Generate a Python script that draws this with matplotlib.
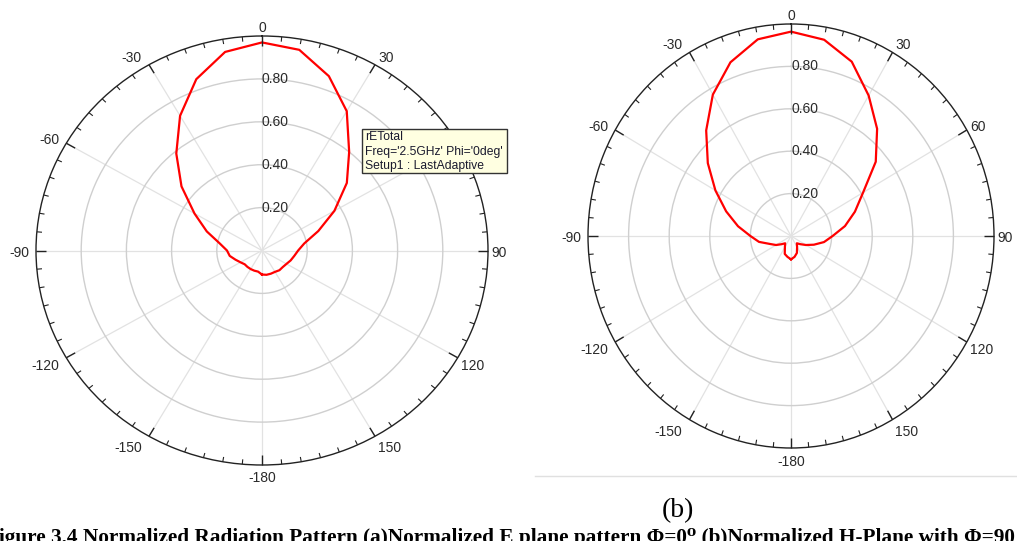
import matplotlib
matplotlib.use('Agg')
import matplotlib.pyplot as plt
import matplotlib.patches as patches
import matplotlib.transforms as mtransforms
import numpy as np

plt.rcParams['font.family'] = ['Liberation Sans', 'DejaVu Sans']

# angles of the samples (deg, HFSS convention: 0 at top, clockwise positive)
theta_deg = list(range(-180, 181, 10))

# (a) E-plane, Phi = 0deg, normalized rETotal
e_plane = [0.112, 0.10, 0.10, 0.10, 0.10, 0.10, 0.11, 0.125, 0.145, 0.155,
           0.19, 0.26, 0.345, 0.465, 0.59, 0.725, 0.85, 0.94, 0.97,
           0.95, 0.865, 0.75, 0.60, 0.49, 0.37, 0.265, 0.19, 0.16,
           0.145, 0.135, 0.125, 0.12, 0.12, 0.115, 0.115, 0.115, 0.112]

# (b) H-plane, Phi = 90deg
h_plane = [0.11, 0.10, 0.09, 0.06, 0.045, 0.06, 0.085, 0.11, 0.16, 0.20,
           0.265, 0.34, 0.43, 0.535, 0.65, 0.77, 0.872, 0.942, 0.964,
           0.94, 0.875, 0.765, 0.66, 0.545, 0.41, 0.335, 0.27, 0.205,
           0.165, 0.12, 0.085, 0.06, 0.045, 0.06, 0.085, 0.10, 0.11]

ring_values = [0.2, 0.4, 0.6, 0.8]
angle_ticks = list(range(0, 360, 30))
angle_labels = ['0', '30', '60', '90', '120', '150', '-180', '-150', '-120', '-90', '-60', '-30']

legend_lines = ["rETotal", "Freq='2.5GHz' Phi='0deg'", "Setup1 : LastAdaptive"]

W, H = 1017, 541
fig = plt.figure(figsize=(W / 100, H / 100), dpi=100)
fig.patch.set_facecolor('white')


def px_box(cx, cy, rx, ry):
    """axes rect in figure fractions from a centre/radius given in pixels (top origin)"""
    return [(cx - rx) / W, (H - (cy + ry)) / H, 2 * rx / W, 2 * ry / H]


def polar_panel(rect, values, rpx):
    ax = fig.add_axes(rect, projection='polar')
    ax.set_aspect('auto')
    ax.set_theta_zero_location('N')
    ax.set_theta_direction(-1)
    ax.set_ylim(0, 1.0)

    ax.set_xticks(np.deg2rad(angle_ticks))
    ax.set_xticklabels([])
    ax.tick_params(axis='x', which='major', length=0)
    ax.set_yticks(ring_values)
    ax.set_yticklabels([])
    ax.grid(axis='x', which='major', color='#e2e2e2', linewidth=0.9)
    ax.grid(axis='y', color='#cfcfcf', linewidth=1.0)
    ax.spines['polar'].set_color('#222222')
    ax.spines['polar'].set_linewidth(1.0)

    # inward ticks on the outer circle: long every 30deg, short every 5deg
    minor = [a for a in range(0, 360, 5) if a % 30]
    ax.vlines(np.deg2rad(angle_ticks), 1 - 10 / rpx, 1.0, color='#222222',
              linewidth=1.0, clip_on=False, zorder=6)
    ax.vlines(np.deg2rad(minor), 1 - 5 / rpx, 1.0, color='#222222',
              linewidth=0.8, clip_on=False, zorder=6)

    # angle labels, HFSS style: right side left-aligned, left side right-aligned
    for a, lab in zip(angle_ticks, angle_labels):
        dy = 11 * np.cos(np.deg2rad(a)) - 2.5
        if a in (0, 180):
            ha, dx = 'center', 0
        elif a < 180:
            ha, dx = 'left', 3
        else:
            ha, dx = 'right', -7
        tr = mtransforms.offset_copy(ax.transData, fig=fig, x=dx, y=dy, units='dots')
        ax.text(np.deg2rad(a), 1.0, lab, transform=tr, ha=ha, va='center',
                fontsize=10, color='#2a2a2a', clip_on=False)

    for r in ring_values:
        ax.text(0, r, f'{r:.2f}', ha='left', va='center', fontsize=10,
                color='#2a2a2a', zorder=4)

    ax.plot(np.deg2rad(theta_deg), values, color='#ff0000', linewidth=1.6, zorder=5)
    return ax


ax_e = polar_panel(px_box(262, 250.5, 226, 214.5), e_plane, 220)
ax_h = polar_panel(px_box(791, 236, 203, 212), h_plane, 207)

# tooltip style legend of the left plot
box = patches.Rectangle((362 / W, (H - 173) / H), 145 / W, 44 / H,
                        transform=fig.transFigure, facecolor='#ffffe1',
                        edgecolor='#333333', linewidth=1, zorder=10)
fig.add_artist(box)
for i, line in enumerate(legend_lines):
    fig.text(365 / W, (H - (137 + 14.5 * i)) / H, line, ha='left', va='center',
             fontsize=8.7, color='#1a1a2e', zorder=11)

# thin separator line under the right screenshot
fig.add_artist(plt.Line2D([535 / W, 1.0], [(H - 476) / H] * 2, transform=fig.transFigure,
                          color='#e0e0e0', linewidth=1))

fig.text(678 / W, (H - 511) / H, '(b)', ha='center', va='center', fontsize=20,
         family='Liberation Serif', color='black')
fig.text(-13.5 / W, -2 / H,
         'Figure 3.4 Normalized Radiation Pattern (a)Normalized E plane pattern \u03a6=0\u2070 '
         '(b)Normalized H-Plane with \u03a6=90',
         ha='left', va='baseline', fontsize=15.3, fontweight='bold',
         family=['Liberation Serif', 'DejaVu Serif'], color='black')

fig.savefig('out.png', dpi=100)
